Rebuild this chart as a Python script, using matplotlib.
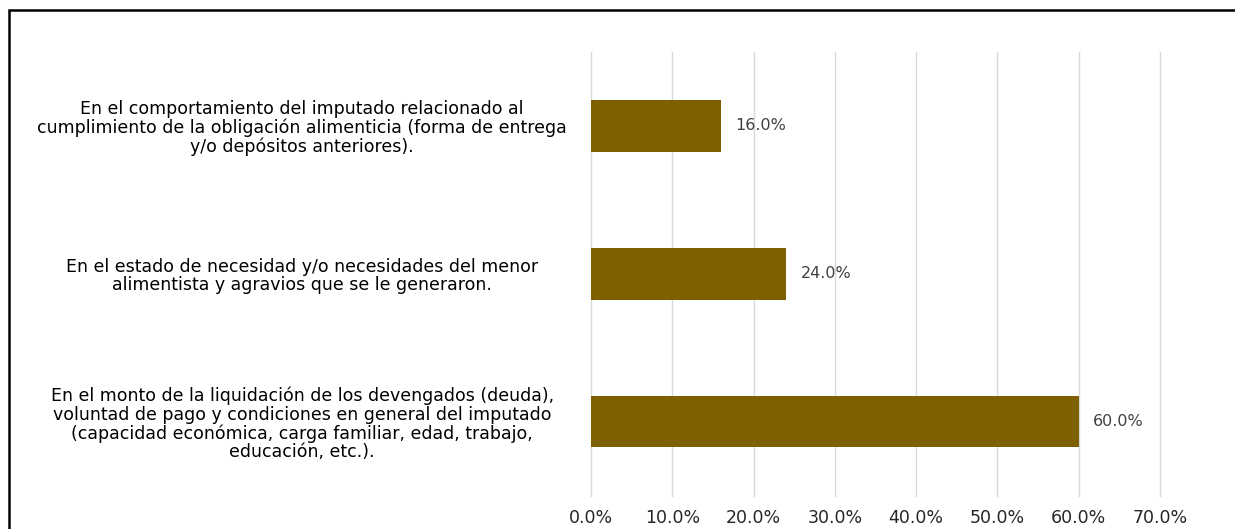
import matplotlib

matplotlib.use("Agg")
import matplotlib.pyplot as plt
from matplotlib.patches import Rectangle
from matplotlib.ticker import FuncFormatter, MultipleLocator

plt.rcParams["font.family"] = ["DejaVu Sans"]

# Categories listed top to bottom
categories = [
    "En el comportamiento del imputado relacionado al\n"
    "cumplimiento de la obligación alimenticia (forma de entrega\n"
    "y/o depósitos anteriores).",
    "En el estado de necesidad y/o necesidades del menor\n"
    "alimentista y agravios que se le generaron.",
    "En el monto de la liquidación de los devengados (deuda),\n"
    "voluntad de pago y condiciones en general del imputado\n"
    "(capacidad económica, carga familiar, edad, trabajo,\n"
    "educación, etc.).",
]
shares = [0.16, 0.24, 0.60]

W, H = 1235, 529
fig = plt.figure(figsize=(W / 100, H / 100), dpi=100)
ax = fig.add_axes([591 / W, 1 - 495.5 / H, (1160 - 591) / W, (495.5 - 52) / H])

pos = list(range(len(categories)))
ax.barh(pos, shares, height=0.35, color="#7F6000", zorder=3)
for y, v in zip(pos, shares):
    ax.text(v + 0.018, y, f"{v * 100:.1f}%", va="center", ha="left",
            fontsize=11.5, color="#404040")

ax.set_xlim(0, 0.70)
ax.set_ylim(len(categories) - 0.5, -0.5)
ax.xaxis.set_major_locator(MultipleLocator(0.10))
ax.xaxis.set_major_formatter(FuncFormatter(lambda x, _: f"{x * 100:.1f}%"))
ax.set_yticks(pos)
ax.set_yticklabels(categories, ha="center", fontsize=12.5, color="#000000",
                   linespacing=1.03)
ax.tick_params(axis="y", length=0, pad=208)
ax.tick_params(axis="x", length=0, pad=10, labelsize=12.5, labelcolor="#262626")
ax.grid(axis="x", color="#D9D9D9", linewidth=1.0, zorder=0)
for gl in ax.get_xgridlines():
    gl.set_clip_on(False)
for s in ax.spines.values():
    s.set_visible(False)

# outer frame, open at right and bottom edges
fig.patches.append(Rectangle((9 / W, -0.05), 1.2, 1 - 10 / H + 0.05,
                             transform=fig.transFigure, fill=False,
                             edgecolor="black", linewidth=1.8))

fig.savefig("out.png", dpi=100)
